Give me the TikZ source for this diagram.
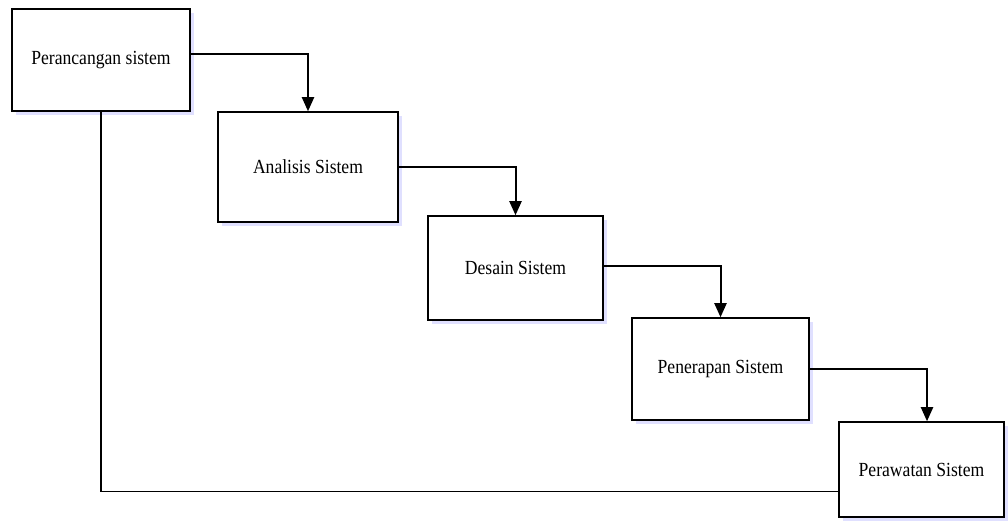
\documentclass[tikz,border=0pt]{standalone}
\usepackage{fontspec}
\setmainfont[FakeStretch=0.88]{Liberation Serif}
\usetikzlibrary{shadows,arrows.meta}

\begin{document}
\begin{tikzpicture}[x=1pt,y=1pt,
  tahap/.style={draw,line width=1.5pt,fill=white,minimum height=102pt,
    font=\fontsize{20}{24}\selectfont,
    drop shadow={shadow xshift=4pt,shadow yshift=-4pt,fill=blue!35,opacity=0.35}},
  alur/.style={line width=2pt,-{Triangle[length=14pt,width=12pt]}}]
  \useasboundingbox (0,0) rectangle (1008,527);
  \node[tahap,minimum width=178pt] (rancang) at (101,467) {Perancangan sistem};
  \node[tahap,minimum width=180pt,minimum height=110pt] (analisis) at (308,360) {Analisis Sistem};
  \node[tahap,minimum width=175pt,minimum height=104pt] (desain) at (515.5,259) {Desain Sistem};
  \node[tahap,minimum width=177pt] (terap) at (720.5,158) {Penerapan Sistem};
  \node[tahap,minimum width=165pt,minimum height=95pt] (rawat) at (921.5,57.5) {Perawatan Sistem};
  % alur tahap ke tahap
  \draw[alur] ([yshift=6pt]rancang.east) -| (analisis.north);
  \draw[alur] (analisis.east) -| (desain.north);
  \draw[alur] ([yshift=2pt]desain.east) -| (terap.north);
  \draw[alur] (terap.east) -| ([xshift=5.5pt]rawat.north);
  % kembali ke awal
  \draw[line width=1.5pt] (rancang.south) |- ([yshift=-22pt]rawat.west);
\end{tikzpicture}
\end{document}
